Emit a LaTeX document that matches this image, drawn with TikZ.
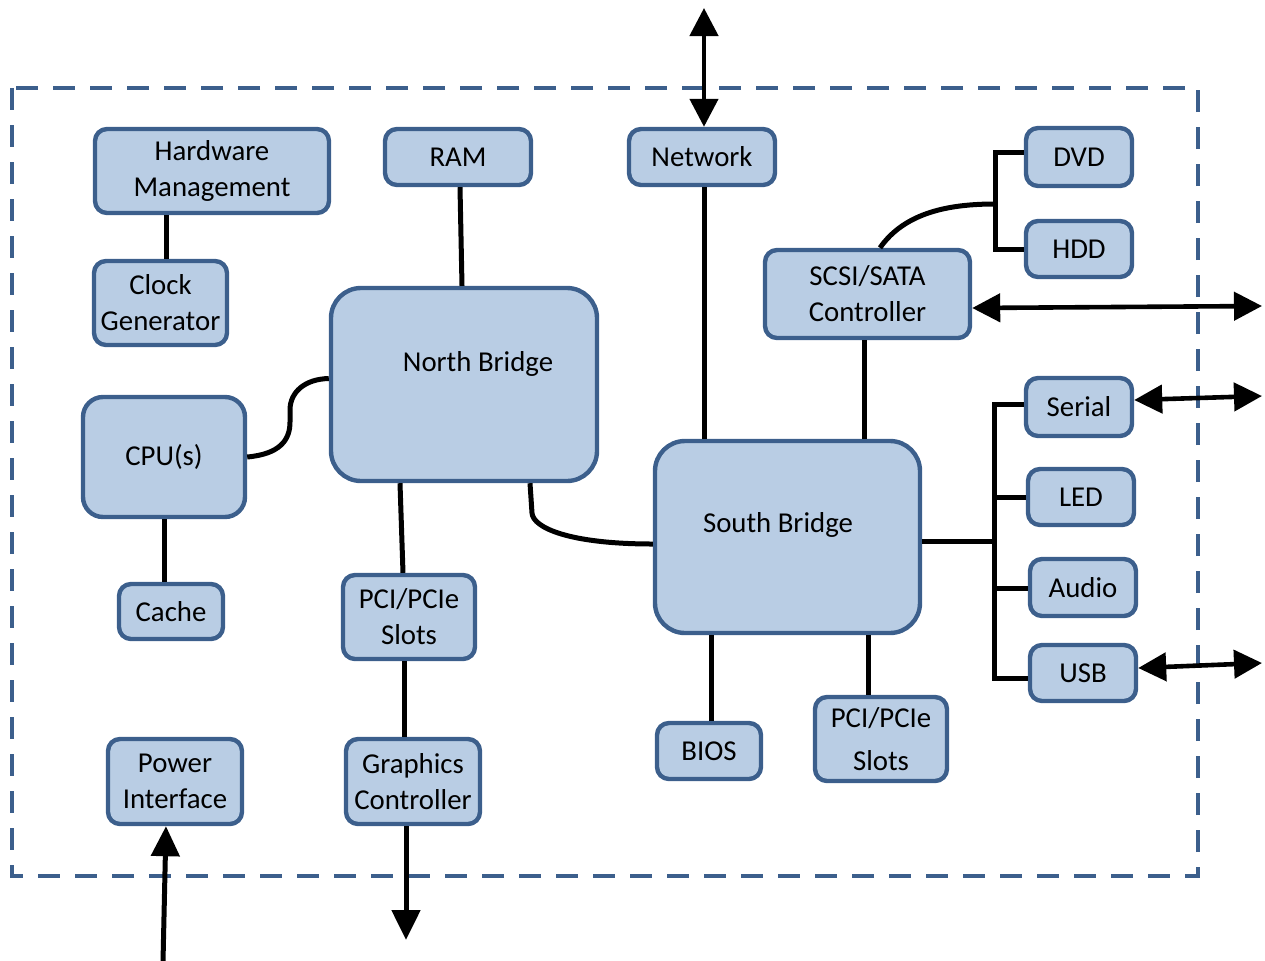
\documentclass[tikz,border=0pt]{standalone}
\usepackage{fontspec}
\setmainfont{Carlito}
\usetikzlibrary{arrows.meta,calc}
\definecolor{boxedge}{HTML}{3C5F8C}
\definecolor{boxfill}{HTML}{B9CDE4}

\begin{document}
\begin{tikzpicture}[x=0.5pt,y=-0.5pt,
  font=\fontsize{14.4}{18}\selectfont,
  box/.style={draw=boxedge, fill=boxfill, line width=2.2pt, rounded corners=6pt,
    align=center, inner sep=0pt},
  bigbox/.style={box, rounded corners=15pt},
  link/.style={line width=2.5pt, black},
  tipend/.style={line width=2.5pt, -{Triangle[length=15pt,width=14pt]}},
  twoway/.style={line width=2.3pt,
    {Triangle[length=14pt,width=14pt]}-{Triangle[length=14pt,width=14pt]}},
  frame/.style={draw=boxedge, line width=2pt, dash pattern=on 11pt off 7.5pt}
]
\useasboundingbox (0,0) rectangle (1265,960);

% system boundary
\draw[frame] (12,88) rectangle (1198,876);

% components
\node[box, minimum width=117pt, minimum height=42pt] (hm) at (212,171) {Hardware\\Management};
\node[box, minimum width=66.5pt, minimum height=42pt] (clk) at (160.5,303) {Clock\\Generator};
\node[box, minimum width=73pt, minimum height=28pt] (ram) at (458,157) {RAM};
\node[box, minimum width=73pt, minimum height=28pt] (net) at (702,157) {Network};
\node[bigbox, minimum width=133pt, minimum height=96.5pt] (nb) at (464,384.5) {};
\node (nbtext) at (478,364) {North Bridge};
\node[box, rounded corners=10pt, minimum width=81pt, minimum height=60pt] (cpu) at (164,457) {CPU(s)};
\node[box, minimum width=52pt, minimum height=27.5pt] (cache) at (171,611.5) {Cache};
\node[box, minimum width=66pt, minimum height=42pt] (pcil) at (409,617) {PCI/PCIe\\Slots};
\node[box, minimum width=67pt, minimum height=42.5pt] (gfx) at (413,781.5) {Graphics\\Controller};
\node[box, minimum width=67pt, minimum height=42.5pt] (pwr) at (175,781.5) {Power\\Interface};
\node[bigbox, minimum width=132.5pt, minimum height=96pt] (sb) at (787.5,537) {};
\node (sbtext) at (778,525) {South Bridge};
\node[box, minimum width=102.5pt, minimum height=44pt] (scsi) at (867.5,294) {SCSI/SATA\\Controller};
\node[box, minimum width=53pt, minimum height=29pt] (dvd) at (1079,157) {DVD};
\node[box, minimum width=53pt, minimum height=28pt] (hdd) at (1079,249) {HDD};
\node[box, minimum width=53pt, minimum height=29pt] (serial) at (1079,407) {Serial};
\node[box, minimum width=53pt, minimum height=28pt] (led) at (1081,497) {LED};
\node[box, minimum width=53pt, minimum height=28.5pt] (audio) at (1083,587.5) {Audio};
\node[box, minimum width=53pt, minimum height=28pt] (usb) at (1083,673) {USB};
\node[box, minimum width=52pt, minimum height=28pt] (bios) at (709,751) {BIOS};
\node[box, minimum width=66pt, minimum height=42pt] (pcir) at (881,739) {PCI/PCIe\\[3.5pt]Slots};

% points used by the connectors
\coordinate (c1) at ($(clk.north)+(5.5,0)$);
\coordinate (n1) at ($(net.south)+(2,0)$);
\coordinate (g1) at ($(pcil.south)+(-5,0)$);
\coordinate (s1) at ($(scsi.south)+(-3.5,0)$);
\coordinate (b1) at ($(bios.north)+(2,0)$);
\coordinate (p1) at ($(pcir.north)+(-13,0)$);
\coordinate (a1) at ($(audio.west)+(0,0.5)$);
\coordinate (fork) at (995,204);
\coordinate (bus) at (994,541);
\coordinate (netout) at (704,8);
\coordinate (scsiout) at (1262,306);
\coordinate (serialout) at (1262,396);
\coordinate (usbout) at (1262,663);
\coordinate (gfxout) at (406,940);
\coordinate (pwrin) at (163,962);

% internal links
\draw[link] (c1) -- (c1 |- hm.south);
\draw[link] ($(ram.south)+(2,0)$) -- ($(nb.north)+(-2,0)$);
\draw[link] (n1) -- (n1 |- sb.north);
\draw[link] (cpu.east) .. controls (280,454) and (290,440) .. (290,422)
  -- (290,410) .. controls (290,392) and (305,379) .. ($(nb.west)+(0,-6)$);
\draw[link] (cpu.south) -- (cpu.south |- cache.north);
\draw[link] ($(nb.south)+(-64,0)$) -- ($(pcil.north)+(-6,0)$);
\draw[link] (g1) -- (g1 |- gfx.north);
\draw[link] ($(nb.south)+(66,0)$) -- (532,513)
  .. controls (533,528) and (570,544) .. ($(sb.west)+(0,7)$);
\draw[link] (s1) -- (s1 |- sb.north);
\draw[link] (b1) -- (b1 |- sb.south);
\draw[link] (p1) -- (p1 |- sb.south);
\draw[link] ($(scsi.north)+(12.5,0)$) .. controls (905,212) and (950,204) .. (fork);
\draw[link] ($(dvd.west)+(0,-5)$) -| (fork) |- (hdd.west);
\draw[link] ($(sb.east)+(0,4)$) -- (bus);
\draw[link] ($(serial.west)+(0,-3)$) -| (bus) |- ($(usb.west)+(0,5)$);
\draw[link] (led.west) -- (led.west -| bus);
\draw[link] (a1) -- (a1 -| bus);

% external connections
\draw[twoway] (netout) -- ($(net.north)+(2,0)$);
\draw[twoway] ($(scsi.east)+(0,14)$) -- (scsiout);
\draw[twoway] ($(serial.east)+(0,-7)$) -- (serialout);
\draw[twoway] ($(usb.east)+(0,-5)$) -- (usbout);
\draw[tipend] ($(gfx.south)+(-7,0)$) -- (gfxout);
\draw[tipend] (pwrin) -- ($(pwr.south)+(-9,0)$);
\end{tikzpicture}
\end{document}
